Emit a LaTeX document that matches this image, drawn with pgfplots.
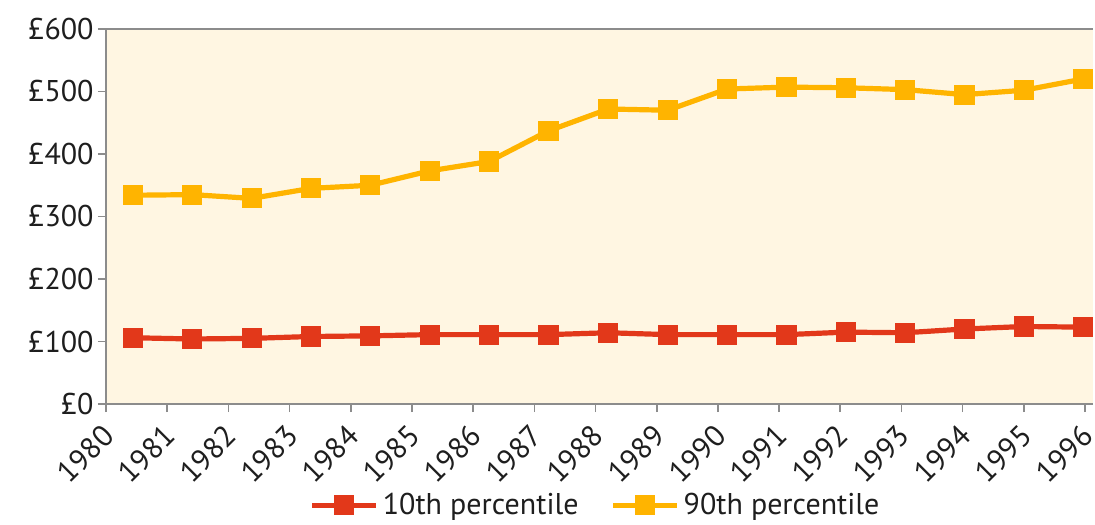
\documentclass[border=0pt]{standalone}
\usepackage{pgfplots}
\pgfplotsset{compat=1.18}
\usepackage{fontspec}
\setmainfont{PT Sans}
\definecolor{redc}{HTML}{E2381A}
\definecolor{orac}{HTML}{FFB400}
\definecolor{bgc}{HTML}{FFF6E2}
\definecolor{axc}{HTML}{8C8C8C}
\definecolor{txc}{HTML}{1E1E1E}
\begin{document}
\begin{tikzpicture}
\begin{axis}[
  name=ax,
  scale only axis,
  width=493.5pt, height=187.5pt,
  xmin=0, xmax=16.13, ymin=0, ymax=600,
  axis background/.style={fill=bgc},
  axis line style={axc, line width=0.8pt},
  axis x line*=bottom, axis y line*=left,
  tick style={axc, line width=0.8pt},
  tick align=outside,
  major tick length=4pt,
  xtick={0,...,16},
  xticklabels={1980,1981,1982,1983,1984,1985,1986,1987,1988,1989,1990,1991,1992,1993,1994,1995,1996},
  ytick={0,100,200,300,400,500,600},
  yticklabels={£0,£100,£200,£300,£400,£500,£600},
  /pgf/number format/assume math mode=true,
  ticklabel style={font=\fontsize{15}{18}\selectfont, text=txc},
  x tick label style={rotate=45, anchor=north east, inner sep=0pt, xshift=-5.6pt, yshift=-2pt},
  y tick label style={inner sep=2pt},
  legend style={at={(0.497,-0.27)}, anchor=center, draw=none, fill=none,
    legend columns=2, font=\fontsize{15}{18}\selectfont, text=txc,
    /tikz/every even column/.append style={column sep=14pt}},
  legend image code/.code={\draw[#1,mark repeat=2,mark phase=2] plot coordinates {(0pt,0pt)(16pt,0pt)(32pt,0pt)};},
  clip=false,
]
\addplot[redc, line width=2.6pt, mark=square*, mark size=4.8pt, mark options={solid, line width=0pt, fill=redc}] coordinates {
(0.44,106) (1.41,104) (2.38,105) (3.35,108) (4.32,109) (5.29,111) (6.26,111) (7.23,111) (8.21,114) (9.18,111) (10.15,111) (11.12,111) (12.09,115) (13.06,114) (14.03,120) (15.00,124) (15.97,123)
};
\addlegendentry{10th percentile}
\addplot[orac, line width=2.6pt, mark=square*, mark size=4.8pt, mark options={solid, line width=0pt, fill=orac}] coordinates {
(0.44,334) (1.41,335) (2.38,329) (3.35,345) (4.32,350) (5.29,373) (6.26,388) (7.23,437) (8.21,472) (9.18,470) (10.15,504) (11.12,507) (12.09,506) (13.06,503) (14.03,495) (15.00,502) (15.97,520)
};
\addlegendentry{90th percentile}
\draw[axc, line width=0.8pt] (rel axis cs:0,1) -- (rel axis cs:1,1);
\end{axis}
\pgfresetboundingbox
\path ([shift={(-53pt,-60pt)}]ax.south west) rectangle ([shift={(1pt,14.5pt)}]ax.north east);
\end{tikzpicture}
\end{document}
